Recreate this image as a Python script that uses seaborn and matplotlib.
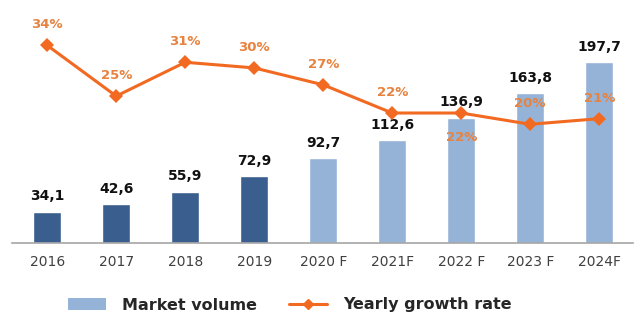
import matplotlib
matplotlib.use("Agg")
import matplotlib.pyplot as plt
import seaborn as sns
import pandas as pd
from matplotlib.patches import Patch
from matplotlib.lines import Line2D

years = ["2016", "2017", "2018", "2019", "2020 F", "2021F", "2022 F", "2023 F", "2024F"]
volume = [34.1, 42.6, 55.9, 72.9, 92.7, 112.6, 136.9, 163.8, 197.7]
growth = [34, 25, 31, 30, 27, 22, 22, 20, 21]
forecast = [False, False, False, False, True, True, True, True, True]
growth_label_below = [False, False, False, False, False, False, True, False, False]

dark = "#3A5F8F"
light = "#95B3D7"
orange = "#F26A21"
label_orange = "#E8823F"

sns.set_theme(style="white")
plt.rcParams['font.family'] = ['DejaVu Sans']

fig = plt.figure(figsize=(6.41, 3.32), dpi=100)
ax = fig.add_axes([12/641, (332-243)/332, (633-12)/641, 223/332])

df = pd.DataFrame({"year": years, "volume": volume})
colors = [light if f else dark for f in forecast]
sns.barplot(data=df, x="year", y="volume", hue="year", palette=colors,
            width=0.41, legend=False, ax=ax, saturation=1)
ax.set_ylim(0, 243.4)
ax.set_xlim(-0.51, 8.49)

for i, v in enumerate(volume):
    ax.annotate(f"{v:.1f}".replace(".", ","), (i, v), xytext=(0, 6),
                textcoords="offset points", ha="center", va="bottom",
                fontsize=10, fontweight="bold", color="#111111")

for s in ["top", "right", "left"]:
    ax.spines[s].set_visible(False)
ax.spines["bottom"].set_color("#A6A6A6")
ax.spines["bottom"].set_linewidth(1.2)
ax.set_yticks([])
ax.set_xlabel("")
ax.set_ylabel("")
ax.tick_params(axis="x", length=0, pad=9, labelsize=10, labelcolor="#404040")

ax2 = ax.twinx()
gdf = pd.DataFrame({"x": list(range(len(years))), "growth": growth})
sns.lineplot(data=gdf, x="x", y="growth", ax=ax2, color=orange, linewidth=2.2,
             marker="D", markersize=7, markeredgewidth=0)
ax2.set_ylim(-1.06, 38.5)
ax2.set_xlim(-0.51, 8.49)
ax2.axis("off")

for i, g in enumerate(growth):
    off = -13 if growth_label_below[i] else 10
    ax2.annotate(f"{g}%", (i, g), xytext=(0, off), textcoords="offset points",
                 ha="center", va="top" if growth_label_below[i] else "bottom",
                 fontsize=9.5, fontweight="bold", color=label_orange)

handles = [Patch(facecolor=light, edgecolor="none"),
           Line2D([0], [0], color=orange, linewidth=2.2, marker="D", markersize=5)]
fig.legend(handles, ["Market volume", "Yearly growth rate"], loc="center",
           bbox_to_anchor=(290/641, 1 - 305/332), ncol=2, frameon=False,
           prop={"weight": "bold", "size": 11.5}, handlelength=2.4,
           handleheight=0.8, columnspacing=2.0, handletextpad=1.0)

fig.savefig("out.png", dpi=100)
